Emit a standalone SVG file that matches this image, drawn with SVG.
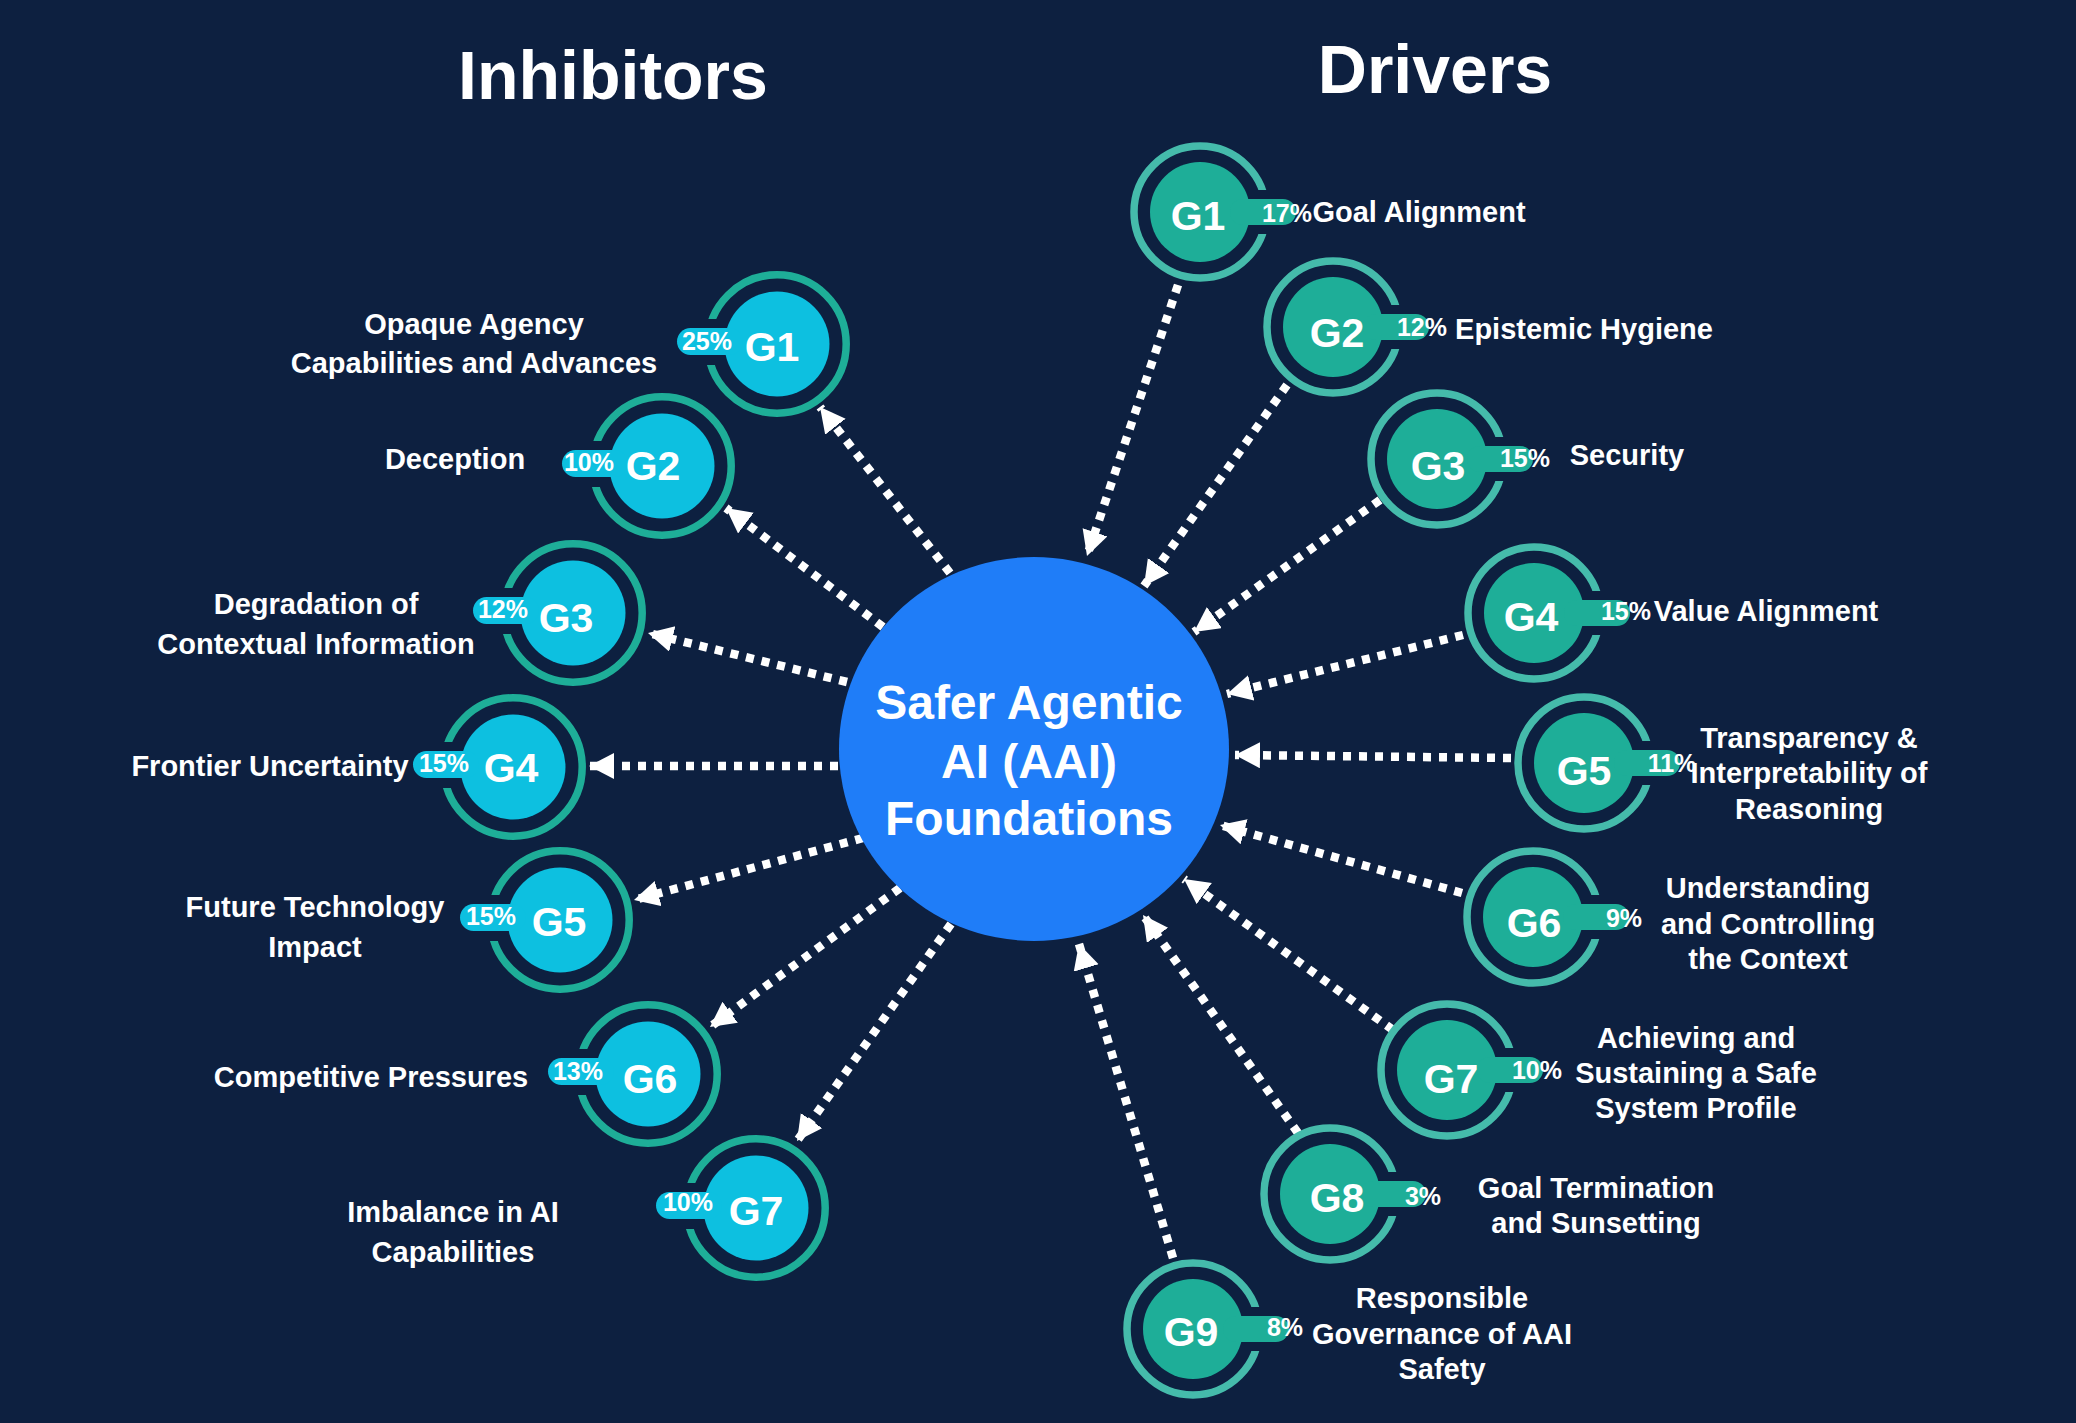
<svg xmlns="http://www.w3.org/2000/svg" width="2076" height="1423" viewBox="0 0 2076 1423">
<style>
text{font-family:"Liberation Sans",Arial,sans-serif;font-weight:700;fill:#fff;text-anchor:middle}
.title{font-size:68px}
.hub{font-size:48px}
.g{font-size:41px}
.pct{font-size:25px}
.lbl{font-size:29px}
.conn{fill:none;stroke:#fff;stroke-width:8.500;stroke-dasharray:8 8;marker-end:url(#ah)}
.ringL{fill:none;stroke:#1EAE98;stroke-width:7.500}
.ringR{fill:none;stroke:#45BBAB;stroke-width:7.500}
.fillL{fill:#0DC0E0}
.fillR{fill:#1EAE98}
</style>
<defs>
<marker id="ah" markerUnits="userSpaceOnUse" markerWidth="27" markerHeight="27" refX="25" refY="13" orient="auto"><path d="M0 0L25 13L0 26Z" fill="#fff"/></marker>
<clipPath id="gapR"><path clip-rule="evenodd" d="M-80 -80H80V80H-80ZM40 -22H80V22H40Z"/></clipPath>
<clipPath id="gapL"><path clip-rule="evenodd" d="M-80 -80H80V80H-80ZM-40 -25H-80V21H-40Z"/></clipPath>
<g id="nodeR">
<circle class="ringR" r="66" clip-path="url(#gapR)"/>
<circle class="fillR" r="50"/>
<rect class="fillR" x="30" y="-13" width="66" height="26" rx="13"/>
</g>
<g id="nodeL">
<circle class="ringL" r="69.200" clip-path="url(#gapL)"/>
<circle class="fillL" r="52.500"/>
<rect class="fillL" x="-100" y="-16" width="66" height="27" rx="13.500"/>
</g>
</defs>
<rect width="2076" height="1423" fill="#0D2040"/>
<text class="title" x="613" y="99">Inhibitors</text>
<text class="title" x="1435" y="93">Drivers</text>
<g id="connectors">
<path class="conn" d="M950 573L820 407"/>
<path class="conn" d="M883 627L726 508"/>
<path class="conn" d="M847 682L648 633"/>
<path class="conn" d="M838 766L589 766"/>
<path class="conn" d="M863 838L634 900"/>
<path class="conn" d="M900 888L710 1027"/>
<path class="conn" d="M951 924L797 1141"/>
<path class="conn" d="M1178 285L1087 556"/>
<path class="conn" d="M1287 385L1144 586"/>
<path class="conn" d="M1380 500L1194 632"/>
<path class="conn" d="M1463 635L1227 694"/>
<path class="conn" d="M1511 758L1235 755"/>
<path class="conn" d="M1462 893L1220 825"/>
<path class="conn" d="M1393 1030L1184 879"/>
<path class="conn" d="M1298 1133L1143 915"/>
<path class="conn" d="M1173 1258L1079 944"/>
</g>
<g id="hub"><ellipse cx="1034" cy="749" rx="195" ry="192" fill="#1F7DF8"/>
<text class="hub" x="1029" y="719">Safer Agentic</text>
<text class="hub" x="1029" y="778">AI (AAI)</text>
<text class="hub" x="1029" y="835">Foundations</text></g>

<g id="inh-g1"><use href="#nodeL" x="777" y="344"/><text class="g" x="772" y="361">G1</text><text class="pct" x="707" y="350">25%</text><text class="lbl" x="474" y="334">Opaque Agency</text><text class="lbl" x="474" y="373">Capabilities and Advances</text></g>
<g id="inh-g2"><use href="#nodeL" x="662" y="466"/><text class="g" x="653" y="480">G2</text><text class="pct" x="589" y="471">10%</text><text class="lbl" x="455" y="469">Deception</text></g>
<g id="inh-g3"><use href="#nodeL" x="573" y="613"/><text class="g" x="566" y="632">G3</text><text class="pct" x="503" y="618">12%</text><text class="lbl" x="316" y="614">Degradation of</text><text class="lbl" x="316" y="654">Contextual Information</text></g>
<g id="inh-g4"><use href="#nodeL" x="513" y="767"/><text class="g" x="511" y="782">G4</text><text class="pct" x="444" y="772">15%</text><text class="lbl" x="270" y="776">Frontier Uncertainty</text></g>
<g id="inh-g5"><use href="#nodeL" x="560" y="920"/><text class="g" x="559" y="936">G5</text><text class="pct" x="491" y="925">15%</text><text class="lbl" x="315" y="917">Future Technology</text><text class="lbl" x="315" y="957">Impact</text></g>
<g id="inh-g6"><use href="#nodeL" x="648" y="1074"/><text class="g" x="650" y="1093">G6</text><text class="pct" x="578" y="1080">13%</text><text class="lbl" x="371" y="1087">Competitive Pressures</text></g>
<g id="inh-g7"><use href="#nodeL" x="756" y="1208"/><text class="g" x="756" y="1225">G7</text><text class="pct" x="688" y="1211">10%</text><text class="lbl" x="453" y="1222">Imbalance in AI</text><text class="lbl" x="453" y="1262">Capabilities</text></g>

<g id="drv-g1"><use href="#nodeR" x="1200" y="212"/><text class="g" x="1198" y="230">G1</text><text class="pct" x="1287" y="222">17%</text><text class="lbl" x="1419" y="222">Goal Alignment</text></g>
<g id="drv-g2"><use href="#nodeR" x="1333" y="327"/><text class="g" x="1337" y="347">G2</text><text class="pct" x="1422" y="336">12%</text><text class="lbl" x="1584" y="339">Epistemic Hygiene</text></g>
<g id="drv-g3"><use href="#nodeR" x="1437" y="459"/><text class="g" x="1438" y="480">G3</text><text class="pct" x="1525" y="467">15%</text><text class="lbl" x="1627" y="465">Security</text></g>
<g id="drv-g4"><use href="#nodeR" x="1534" y="613"/><text class="g" x="1531" y="631">G4</text><text class="pct" x="1626" y="620">15%</text><text class="lbl" x="1766" y="621">Value Alignment</text></g>
<g id="drv-g5"><use href="#nodeR" x="1584" y="763"/><text class="g" x="1584" y="785">G5</text><text class="pct" x="1672" y="772">11%</text><text class="lbl" x="1809" y="748">Transparency &amp;</text><text class="lbl" x="1809" y="783">Interpretability of</text><text class="lbl" x="1809" y="819">Reasoning</text></g>
<g id="drv-g6"><use href="#nodeR" x="1533" y="917"/><text class="g" x="1534" y="937">G6</text><text class="pct" x="1624" y="927">9%</text><text class="lbl" x="1768" y="898">Understanding</text><text class="lbl" x="1768" y="934">and Controlling</text><text class="lbl" x="1768" y="969">the Context</text></g>
<g id="drv-g7"><use href="#nodeR" x="1447" y="1070"/><text class="g" x="1451" y="1093">G7</text><text class="pct" x="1537" y="1079">10%</text><text class="lbl" x="1696" y="1048">Achieving and</text><text class="lbl" x="1696" y="1083">Sustaining a Safe</text><text class="lbl" x="1696" y="1118">System Profile</text></g>
<g id="drv-g8"><use href="#nodeR" x="1330" y="1194"/><text class="g" x="1337" y="1212">G8</text><text class="pct" x="1423" y="1205">3%</text><text class="lbl" x="1596" y="1198">Goal Termination</text><text class="lbl" x="1596" y="1233">and Sunsetting</text></g>
<g id="drv-g9"><use href="#nodeR" x="1193" y="1329"/><text class="g" x="1191" y="1346">G9</text><text class="pct" x="1285" y="1336">8%</text><text class="lbl" x="1442" y="1308">Responsible</text><text class="lbl" x="1442" y="1344">Governance of AAI</text><text class="lbl" x="1442" y="1379">Safety</text></g>
</svg>
